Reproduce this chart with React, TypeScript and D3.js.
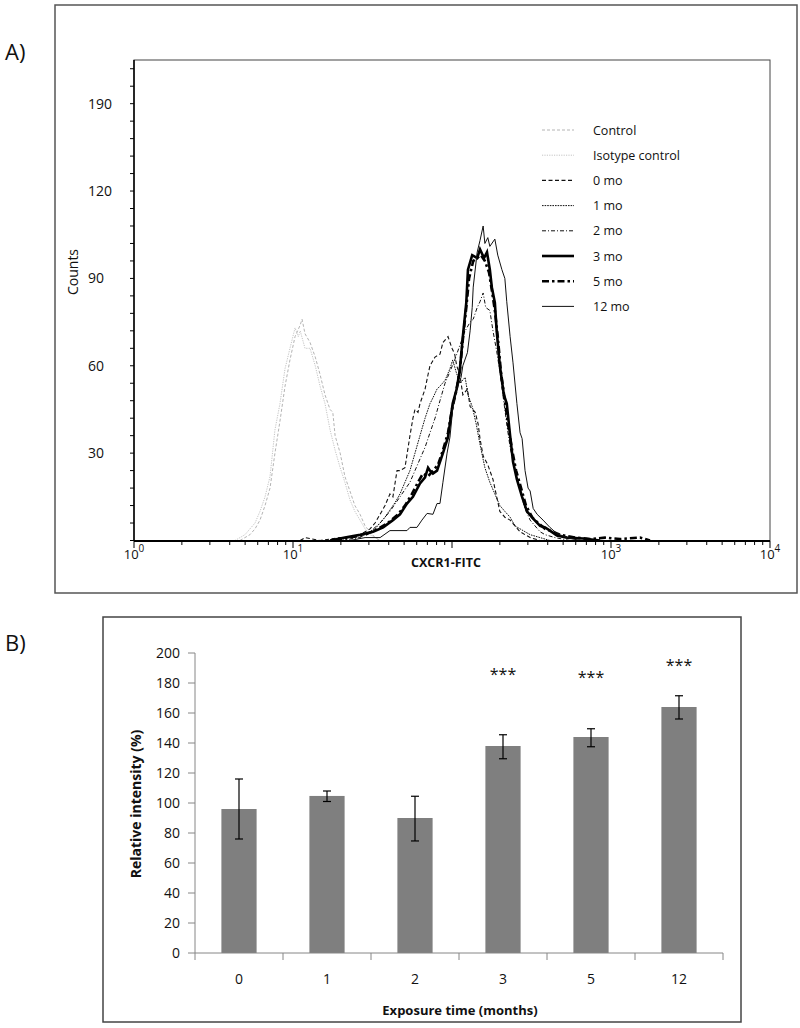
import React from "react";
import * as d3 from "d3";

// ---------- panel A: CXCR1-FITC histograms, [intensity, counts] ----------
const controlData = [
  [4.64, 0], [5.36, 2], [5.77, 4], [6.2, 7], [6.67, 12], [7.17, 18], [7.7, 30], [8.28, 41],
  [8.91, 53], [9.57, 62], [10.3, 70], [11.1, 74], [11.4, 76], [11.9, 71], [12.8, 68], [13.8, 63],
  [14.8, 57], [15.9, 50], [17.1, 45], [17.8, 44], [18.4, 36], [19.8, 30], [21.2, 22], [22.8, 17],
  [24.5, 12], [26.4, 9], [28.4, 5], [30.5, 3], [32.8, 1], [35.3, 0],
];
const isotypeData = [
  [4.32, 0], [4.99, 2], [5.36, 4], [5.77, 6], [6.2, 10], [6.67, 15], [7.17, 22], [7.7, 38],
  [8.28, 47], [8.91, 59], [9.57, 66], [10.3, 73], [10.8, 70], [11.1, 72], [11.9, 66], [12.8, 66],
  [13.8, 60], [14.8, 53], [15.9, 47], [17.1, 38], [18.4, 31], [19.8, 25], [21.2, 20], [22.8, 14],
  [24.5, 10], [26.4, 7], [28.4, 4], [30.5, 2], [32.8, 1], [35.3, 0],
];
const mo0Data = [
  [11.1, 0], [11.9, 1], [14.8, 0], [19.8, 1], [22.8, 1], [26.4, 2], [30.5, 4], [32.8, 6],
  [35.3, 9], [37.9, 12], [40.7, 16], [42.5, 15], [45.1, 24], [47.1, 24], [50.6, 25], [54.4, 36],
  [56.8, 42], [58.5, 45], [61.1, 44], [62.9, 47], [67.7, 52], [70.7, 57], [72.7, 60], [78.2, 63],
  [84.0, 64], [87.7, 68], [94.4, 70], [100, 66], [104, 64], [107, 60], [112, 57], [117, 50],
  [125, 52], [130, 46], [140, 44], [146, 40], [150, 35], [157, 29], [168, 26], [181, 21],
  [191, 15], [200, 10], [215, 8], [232, 7], [249, 5], [268, 3], [288, 2], [310, 1], [358, 0],
];
const mo1Data = [
  [17.1, 0], [22.8, 1], [28.4, 2], [32.8, 4], [37.9, 8], [43.8, 13], [47.1, 16], [50.6, 20],
  [54.4, 24], [58.5, 30], [62.9, 36], [67.7, 42], [72.7, 47], [75.9, 49], [80.5, 52], [84.0, 53],
  [90.4, 55], [97.1, 59], [101, 62], [106, 58], [112, 54], [121, 56], [126, 50], [134, 46],
  [142, 40], [150, 33], [161, 25], [173, 20], [186, 16], [200, 12], [215, 10], [232, 8],
  [249, 5], [268, 4], [310, 2], [358, 1], [413, 0],
];
const mo2Data = [
  [19.8, 0], [26.4, 1], [30.5, 3], [35.3, 6], [40.7, 10], [47.1, 15], [54.4, 20], [58.5, 24],
  [62.9, 28], [67.7, 32], [72.7, 37], [78.2, 42], [84.0, 48], [90.4, 54], [97.1, 58], [104, 62],
  [112, 67], [121, 72], [130, 75], [136, 76], [144, 80], [150, 82], [157, 85], [163, 80],
  [173, 79], [181, 72], [191, 65], [200, 58], [209, 50], [221, 40], [232, 32], [249, 24],
  [268, 17], [288, 11], [310, 7], [333, 5], [358, 3], [385, 2], [444, 1], [552, 0],
];
const mo3Data = [
  [17.1, 0], [21.2, 1], [26.4, 2], [31.9, 3], [36.9, 4.5], [42.5, 7], [47.1, 9], [52.1, 12.7],
  [56.8, 15], [62.9, 19.6], [67.7, 21.7], [70.7, 25], [72.7, 24], [75.9, 23], [80.5, 24], [87.7, 30],
  [94.4, 35.5], [101, 47], [107, 52], [112, 58.6], [117, 70], [123, 81.7], [126, 93], [134, 98],
  [144, 97], [150, 100], [159, 97], [166, 99], [173, 93], [178, 87], [186, 81.7], [191, 72],
  [200, 60], [212, 50], [221, 47], [232, 36], [242, 27], [256, 21], [276, 15], [296, 10],
  [324, 7.5], [358, 5], [385, 4.5], [413, 3.4], [457, 1.7], [529, 1], [666, 0.7], [853, 0],
];
const mo5Data = [
  [18.4, 0], [22.8, 1], [28.4, 2], [34.3, 4], [39.5, 6], [45.8, 9], [50.6, 12], [56.0, 16],
  [61.1, 20], [65.7, 23], [70.7, 22], [75.9, 24], [81.7, 26], [87.7, 31], [94.4, 37], [100, 45],
  [106, 51], [112, 58], [117, 69], [123, 80], [128, 90], [136, 96], [144, 97], [152, 98],
  [161, 96], [171, 92], [178, 86], [186, 79], [194, 70], [203, 58], [215, 48], [225, 40],
  [239, 31], [253, 24], [272, 18], [292, 12], [319, 8], [348, 6], [385, 4], [431, 3],
  [478, 2], [594, 1], [738, 0.5], [917, 1], [1139, 0.5], [1522, 1], [1759, 0],
];
const mo12Data = [
  [22.8, 0], [28.4, 1], [35.3, 1], [40.7, 3.4], [47.1, 3.4], [52.1, 3.4], [54.4, 4.5], [60.2, 4.5],
  [64.7, 7], [69.7, 9.3], [75.9, 9], [80.5, 12.7], [84.0, 12.7], [87.7, 20], [93.1, 30], [97.1, 35.5],
  [101, 45], [107, 52], [114, 56], [117, 60], [125, 64.5], [130, 72], [134, 80], [136, 87],
  [144, 99], [150, 103], [157, 108], [161, 102], [168, 104], [173, 101], [186, 103.5], [194, 98],
  [206, 93], [215, 90], [221, 82], [232, 70], [242, 61], [256, 47], [268, 37], [276, 35],
  [288, 24], [301, 18], [310, 17], [324, 11], [343, 9], [374, 7], [413, 4.5], [457, 2.4],
  [529, 1], [638, 0],
];
const seriesNames = ["Control", "Isotype control", "0 mo", "1 mo", "2 mo", "3 mo", "5 mo", "12 mo"];
const seriesData = [controlData, isotypeData, mo0Data, mo1Data, mo2Data, mo3Data, mo5Data, mo12Data];
const countTicks = [30, 60, 90, 120, 150];
const countTickLabels = ["30", "60", "90", "120", "190"];
const decadeLabels = [0, 1, 3, 4];

// ---------- panel B: relative intensity ----------
const months = ["0", "1", "2", "3", "5", "12"];
const intensity = [96, 104.7, 90, 138, 144, 164];
const errLow = [76, 101, 74.7, 129.5, 137.5, 156];
const errHigh = [116, 108, 104.5, 145.5, 149.5, 171.5];
const starLevel = [null, null, null, 189, 187, 195];
const intensityTicks = [0, 20, 40, 60, 80, 100, 120, 140, 160, 180, 200];

const lineStyles = [
  { stroke: "#b4b4b4", width: 1, dash: "3,2" },
  { stroke: "#c4c4c4", width: 1, dash: "1.2,1.2" },
  { stroke: "#111", width: 1.1, dash: "4,2.5" },
  { stroke: "#111", width: 1, dash: "1.6,1" },
  { stroke: "#111", width: 1, dash: "4,2,1,2" },
  { stroke: "#000", width: 2.6, dash: null },
  { stroke: "#000", width: 2.6, dash: "7,3,2.5,3" },
  { stroke: "#111", width: 1, dash: null },
];

const FONT = "'Open Sans', 'DejaVu Sans', sans-serif";

function PanelA() {
  const x = d3.scaleLog().domain([1, 10000]).range([134, 770]);
  const y = d3.scaleLinear().domain([0, 165]).range([540.5, 60]);
  const line = d3
    .line<number[]>()
    .x((d) => x(d[0]))
    .y((d) => y(d[1]))
    .curve(d3.curveLinear);
  const minorY = d3.range(0, 163, 6);

  return (
    <g fontFamily={FONT}>
      <rect x={55} y={5} width={742} height={588} fill="none" stroke="#555" strokeWidth={1.5} />
      <text x={5} y={60} fontSize={22} fill="#111">A)</text>
      <rect x={134} y={60} width={636} height={480.5} fill="none" stroke="#444" strokeWidth={1} />

      {/* histograms */}
      {seriesData.map((d, i) => (
        <path
          key={seriesNames[i]}
          d={line(d) || ""}
          fill="none"
          stroke={lineStyles[i].stroke}
          strokeWidth={lineStyles[i].width}
          strokeDasharray={lineStyles[i].dash || undefined}
          strokeLinejoin="miter"
        />
      ))}

      {/* y axis */}
      <line x1={134} x2={134} y1={60} y2={541} stroke="#000" strokeWidth={1.5} />
      {minorY.map((v) => (
        <line key={v} x1={130} x2={134} y1={y(v)} y2={y(v)} stroke="#000" strokeWidth={1} />
      ))}
      {countTicks.map((v, i) => (
        <text key={v} x={88} y={y(v) + 5} fontSize={14} fill="#111">
          {countTickLabels[i]}
        </text>
      ))}
      <text transform="translate(78,272) rotate(-90)" textAnchor="middle" fontSize={14} fill="#111">
        Counts
      </text>

      {/* x axis */}
      <line x1={134} x2={770} y1={541} y2={541} stroke="#000" strokeWidth={2} />
      {x.ticks().map((v) => {
        const major = Math.abs(Math.log10(v) - Math.round(Math.log10(v))) < 1e-9;
        return (
          <line key={v} x1={x(v)} x2={x(v)} y1={541} y2={major ? 548 : 545} stroke="#000" strokeWidth={1} />
        );
      })}
      {decadeLabels.map((e) => (
        <text key={e} x={x(Math.pow(10, e))} y={559} fontSize={13} textAnchor="middle" fill="#111">
          <tspan>10</tspan>
          <tspan dy={-7} fontSize={10}>{e}</tspan>
        </text>
      ))}
      <text x={446} y={567} fontSize={12.5} fontWeight="bold" textAnchor="middle" fill="#111">
        CXCR1-FITC
      </text>

      {/* legend */}
      {seriesNames.map((name, i) => {
        const ly = 130 + i * 25.2;
        return (
          <g key={name}>
            <line
              x1={542}
              x2={574}
              y1={ly}
              y2={ly}
              stroke={lineStyles[i].stroke}
              strokeWidth={lineStyles[i].width}
              strokeDasharray={lineStyles[i].dash || undefined}
            />
            <text x={593} y={ly + 4.5} fontSize={12.5} fill="#111">{name}</text>
          </g>
        );
      })}
    </g>
  );
}

function PanelB() {
  const x = d3.scaleBand<string>().domain(months).range([195, 723]).padding(0);
  const y = d3.scaleLinear().domain([0, 200]).range([953, 653]);
  const bw = x.bandwidth() * 0.4;
  const edges = months.map((m) => x(m) as number).concat([723]);

  return (
    <g fontFamily={FONT}>
      <rect x={103} y={617} width={638} height={405} fill="none" stroke="#444" strokeWidth={1.5} />
      <text x={5} y={651} fontSize={22} fill="#111">B)</text>

      {/* bars */}
      {months.map((m, i) => {
        const cx = (x(m) as number) + x.bandwidth() / 2;
        return (
          <g key={m}>
            <rect x={cx - bw / 2} y={y(intensity[i])} width={bw} height={y(0) - y(intensity[i])} fill="#7f7f7f" />
            <line x1={cx} x2={cx} y1={y(errHigh[i])} y2={y(errLow[i])} stroke="#000" strokeWidth={1.2} />
            <line x1={cx - 4} x2={cx + 4} y1={y(errHigh[i])} y2={y(errHigh[i])} stroke="#000" strokeWidth={1.2} />
            <line x1={cx - 4} x2={cx + 4} y1={y(errLow[i])} y2={y(errLow[i])} stroke="#000" strokeWidth={1.2} />
            {starLevel[i] !== null && (
              <text x={cx} y={y(starLevel[i] as number) + 10} fontSize={16} textAnchor="middle" fill="#111">
                ***
              </text>
            )}
            <text x={cx} y={984} fontSize={14} textAnchor="middle" fill="#111">{m}</text>
          </g>
        );
      })}

      {/* axes */}
      <line x1={195} x2={195} y1={653} y2={953} stroke="#868686" strokeWidth={1} />
      {intensityTicks.map((v) => (
        <g key={v}>
          <line x1={188} x2={195} y1={y(v)} y2={y(v)} stroke="#868686" strokeWidth={1} />
          <text x={180} y={y(v) + 5} fontSize={14} textAnchor="end" fill="#111">{v}</text>
        </g>
      ))}
      <line x1={195} x2={723} y1={953} y2={953} stroke="#868686" strokeWidth={1} />
      {edges.map((ex, i) => (
        <line key={i} x1={ex} x2={ex} y1={953} y2={960} stroke="#868686" strokeWidth={1} />
      ))}
      <text transform="translate(141,804) rotate(-90)" textAnchor="middle" fontSize={14} fontWeight="bold" fill="#111">
        Relative intensity (%)
      </text>
      <text x={460} y={1015} textAnchor="middle" fontSize={13} fontWeight="bold" fill="#111">
        Exposure time (months)
      </text>
    </g>
  );
}

export default function App() {
  return (
    <svg
      width={800}
      height={1028}
      viewBox="0 0 800 1028"
      style={{ position: "absolute", left: 0, top: 0, display: "block", background: "#fff" }}
    >
      <PanelA />
      <PanelB />
    </svg>
  );
}
